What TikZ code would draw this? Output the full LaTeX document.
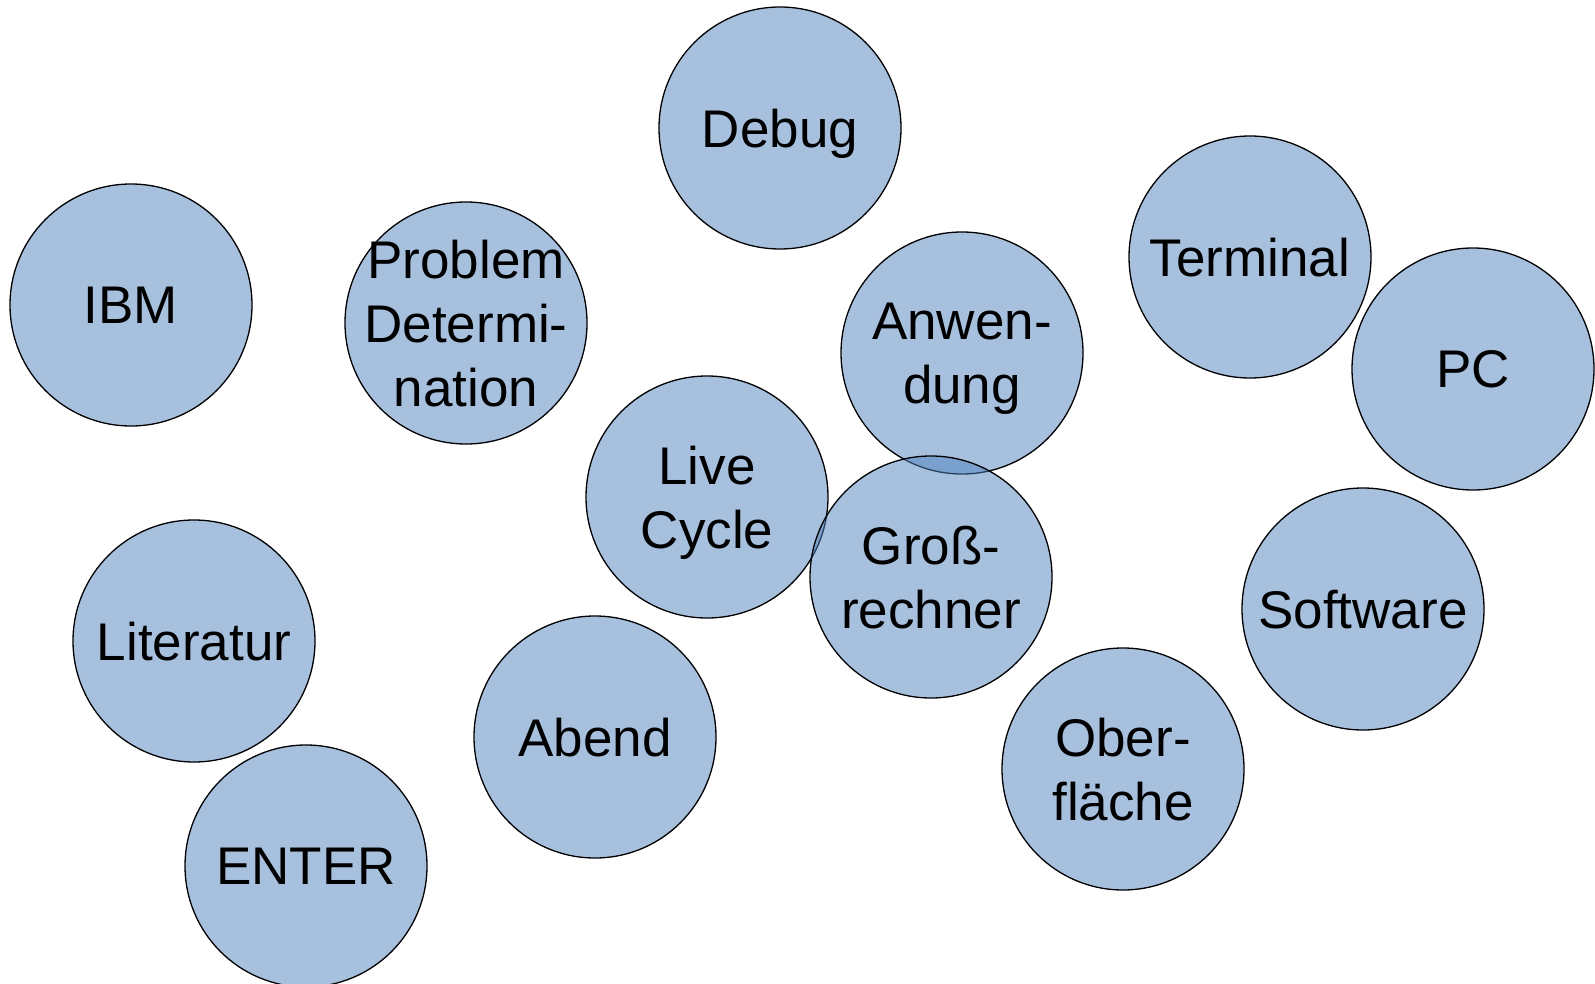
\documentclass[tikz,border=0pt]{standalone}
\usepackage{fontspec}
\setmainfont{Liberation Sans}
\definecolor{bubblefill}{RGB}{79,129,189}

\begin{document}
\begin{tikzpicture}[x=1pt,y=-1pt,
    bubble/.style={circle,draw=black,line width=1.3pt,fill=bubblefill,
      fill opacity=0.5,text opacity=1,draw opacity=1,minimum size=242pt,
      inner sep=-30pt,text depth=0pt,align=center,
      font=\fontsize{53}{64}\selectfont}]
    \useasboundingbox (0,0) rectangle (1595,984); % page = reference size

    % the word bubbles, at their pixel positions
    \foreach \nm/\x/\y/\txt in {
        debug/780/128/{Debug},
        ibm/131/305/{IBM},
        probdet/466/323/{Problem\\Determi-\\nation},
        terminal/1250/257/{Terminal},
        anwendung/962/353/{Anwen-\\dung},
        pc/1473/369/{PC},
        livecycle/707/497/{Live\\Cycle},
        grossrechner/931/577/{Groß-\\rechner},
        software/1363/609/{Software},
        literatur/194/641/{Literatur},
        abend/595/737/{Abend},
        oberflaeche/1123/769/{Ober-\\fläche},
        enter/306/866/{ENTER}}{
        \node[bubble] (\nm) at (\x,\y) {\txt};
    }
\end{tikzpicture}
\end{document}
